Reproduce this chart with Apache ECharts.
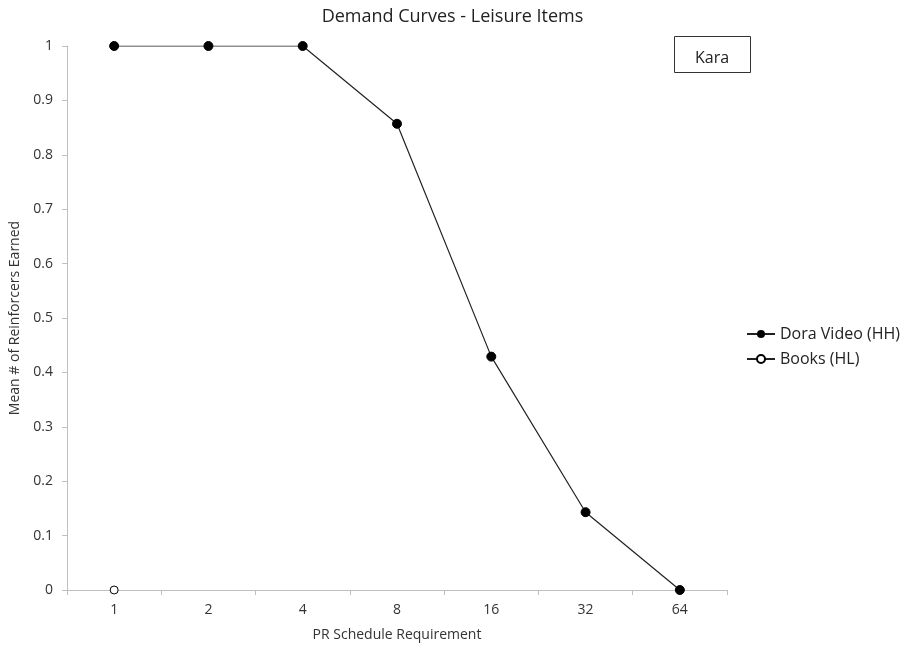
<!DOCTYPE html>
<html>
<head>
<meta charset="utf-8">
<script src="https://cdn.jsdelivr.net/npm/echarts@6/dist/echarts.min.js"></script>
<style>html,body{margin:0;padding:0;background:#fff;}#c{width:905px;height:647px;}</style>
</head>
<body>
<div id="c"></div>
<script>
var categories = ['1', '2', '4', '8', '16', '32', '64'];
var doraVideo = [1, 1, 1, 0.857, 0.429, 0.143, 0];
var books = [0, null, null, null, null, null, null];
var yTicks = [0, 0.1, 0.2, 0.3, 0.4, 0.5, 0.6, 0.7, 0.8, 0.9, 1];

var font = '"Open Sans", sans-serif';
var chart = echarts.init(document.getElementById('c'));
chart.setOption({
  animation: false,
  textStyle: {fontFamily: font},
  title: {
    text: 'Demand Curves - Leisure Items',
    left: 'center', top: 3,
    textStyle: {fontFamily: font, fontSize: 18, fontWeight: 'normal', color: '#222'}
  },
  grid: {left: 67, right: 178, top: 46, bottom: 55, containLabel: false},
  legend: {
    orient: 'vertical', left: 741, top: 321,
    itemWidth: 28, itemHeight: 10, itemGap: 9,
    textStyle: {fontFamily: font, fontSize: 16, color: '#222'},
    data: ['Dora Video (HH)', 'Books (HL)']
  },
  xAxis: {
    type: 'category', data: categories, boundaryGap: true,
    name: 'PR Schedule Requirement', nameLocation: 'middle', nameGap: 38,
    nameTextStyle: {fontFamily: font, fontSize: 14, color: '#333'},
    axisLine: {lineStyle: {color: '#bfbfbf'}},
    axisTick: {show: true, length: 5, lineStyle: {color: '#bfbfbf'}},
    axisLabel: {fontFamily: font, fontSize: 14, color: '#333', margin: 13},
    splitLine: {show: false}
  },
  yAxis: {
    type: 'value', min: 0, max: 1, interval: 0.1,
    name: 'Mean # of Reinforcers Earned', nameLocation: 'middle', nameGap: 42,
    nameTextStyle: {fontFamily: font, fontSize: 14, color: '#333'},
    axisLine: {show: true, lineStyle: {color: '#bfbfbf'}},
    axisTick: {show: true, length: 5, lineStyle: {color: '#bfbfbf'}},
    axisLabel: {fontFamily: font, fontSize: 14, color: '#333', margin: 14,
      formatter: function (v) { var r = Math.round(v * 10) / 10; return yTicks.indexOf(r) >= 0 ? String(r) : ''; }},
    splitLine: {show: false}
  },
  series: [
    {
      name: 'Dora Video (HH)', type: 'line', data: doraVideo,
      symbol: 'circle', symbolSize: 9, showAllSymbol: true,
      lineStyle: {color: '#222', width: 1.2},
      itemStyle: {color: '#000', borderColor: '#000'}
    },
    {
      name: 'Books (HL)', type: 'line', data: books,
      symbol: 'circle', symbolSize: 8, showAllSymbol: true,
      lineStyle: {color: '#222', width: 1.2},
      itemStyle: {color: '#fff', borderColor: '#000', borderWidth: 1}
    }
  ],
  graphic: [
    {type: 'rect', shape: {x: 674.5, y: 36.5, width: 76, height: 36},
     style: {fill: '#fff', stroke: '#333', lineWidth: 1}},
    {type: 'text', x: 712, y: 58,
     style: {text: 'Kara', font: '16px "Open Sans", sans-serif', fill: '#222', textAlign: 'center', textVerticalAlign: 'middle'}}
  ]
});
</script>
</body>
</html>
